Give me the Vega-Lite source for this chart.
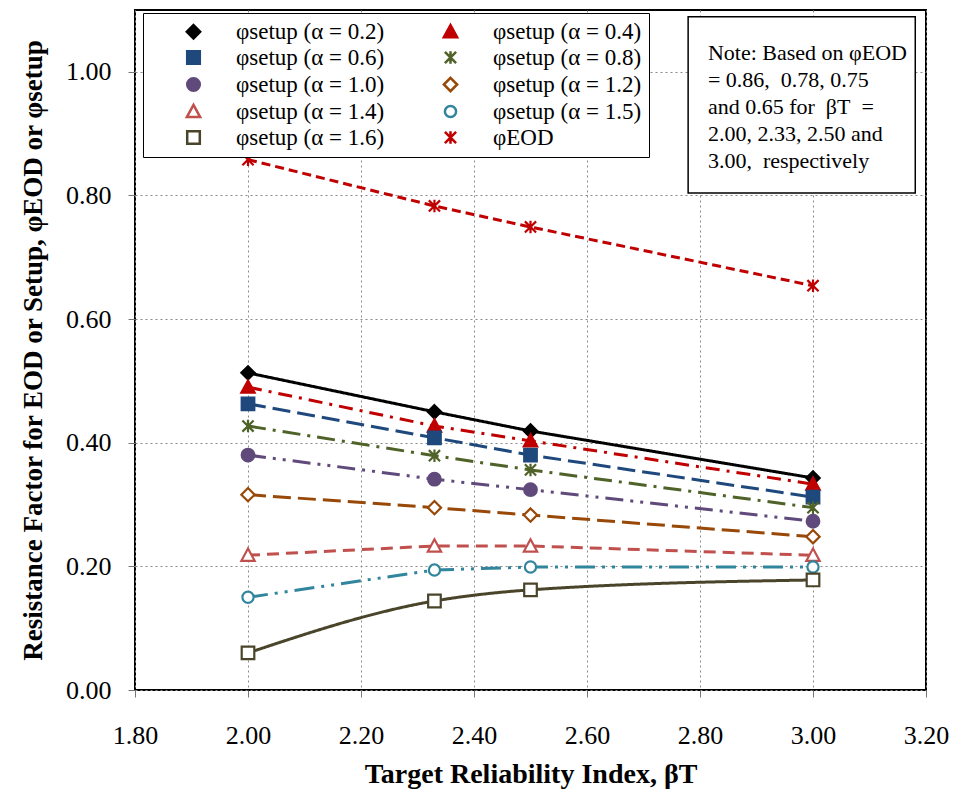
{
  "$schema": "https://vega.github.io/schema/vega-lite/v6.json",
  "width": 791,
  "height": 680,
  "autosize": {"type": "none"},
  "padding": {"left": 135, "top": 10, "right": 29, "bottom": 106},
  "background": "white",
  "config": {
    "font": "Liberation Serif",
    "view": {"stroke": "black", "strokeWidth": 2},
    "axis": {
      "labelFont": "Liberation Serif",
      "labelFontSize": 26,
      "labelColor": "black",
      "labelFlush": false,
      "titleFont": "Liberation Serif",
      "titleFontWeight": "bold",
      "titleColor": "black",
      "grid": true,
      "gridColor": "#8a8a8a",
      "gridDash": [2, 3],
      "gridWidth": 1,
      "domain": false,
      "tickColor": "#777",
      "tickSize": 7,
      "tickWidth": 1
    }
  },
  "data": {
    "values": [
      {"s": "φsetup (α = 0.2)", "b": 2.0, "p": 0.513},
      {"s": "φsetup (α = 0.2)", "b": 2.33, "p": 0.45},
      {"s": "φsetup (α = 0.2)", "b": 2.5, "p": 0.419},
      {"s": "φsetup (α = 0.2)", "b": 3.0, "p": 0.343},
      {"s": "φsetup (α = 0.4)", "b": 2.0, "p": 0.49},
      {"s": "φsetup (α = 0.4)", "b": 2.33, "p": 0.427},
      {"s": "φsetup (α = 0.4)", "b": 2.5, "p": 0.403},
      {"s": "φsetup (α = 0.4)", "b": 3.0, "p": 0.333},
      {"s": "φsetup (α = 0.6)", "b": 2.0, "p": 0.463},
      {"s": "φsetup (α = 0.6)", "b": 2.33, "p": 0.408},
      {"s": "φsetup (α = 0.6)", "b": 2.5, "p": 0.38},
      {"s": "φsetup (α = 0.6)", "b": 3.0, "p": 0.312},
      {"s": "φsetup (α = 0.8)", "b": 2.0, "p": 0.427},
      {"s": "φsetup (α = 0.8)", "b": 2.33, "p": 0.379},
      {"s": "φsetup (α = 0.8)", "b": 2.5, "p": 0.356},
      {"s": "φsetup (α = 0.8)", "b": 3.0, "p": 0.295},
      {"s": "φsetup (α = 1.0)", "b": 2.0, "p": 0.38},
      {"s": "φsetup (α = 1.0)", "b": 2.33, "p": 0.341},
      {"s": "φsetup (α = 1.0)", "b": 2.5, "p": 0.324},
      {"s": "φsetup (α = 1.0)", "b": 3.0, "p": 0.273},
      {"s": "φsetup (α = 1.2)", "b": 2.0, "p": 0.316},
      {"s": "φsetup (α = 1.2)", "b": 2.33, "p": 0.295},
      {"s": "φsetup (α = 1.2)", "b": 2.5, "p": 0.283},
      {"s": "φsetup (α = 1.2)", "b": 3.0, "p": 0.248},
      {"s": "φsetup (α = 1.4)", "b": 2.0, "p": 0.218},
      {"s": "φsetup (α = 1.4)", "b": 2.33, "p": 0.233},
      {"s": "φsetup (α = 1.4)", "b": 2.5, "p": 0.233},
      {"s": "φsetup (α = 1.4)", "b": 3.0, "p": 0.218},
      {"s": "φsetup (α = 1.5)", "b": 2.0, "p": 0.15},
      {"s": "φsetup (α = 1.5)", "b": 2.33, "p": 0.194},
      {"s": "φsetup (α = 1.5)", "b": 2.5, "p": 0.199},
      {"s": "φsetup (α = 1.5)", "b": 3.0, "p": 0.199},
      {"s": "φsetup (α = 1.6)", "b": 2.0, "p": 0.06},
      {"s": "φsetup (α = 1.6)", "b": 2.33, "p": 0.144},
      {"s": "φsetup (α = 1.6)", "b": 2.5, "p": 0.162},
      {"s": "φsetup (α = 1.6)", "b": 3.0, "p": 0.178},
      {"s": "φEOD", "b": 2.0, "p": 0.858},
      {"s": "φEOD", "b": 2.33, "p": 0.783},
      {"s": "φEOD", "b": 2.5, "p": 0.749},
      {"s": "φEOD", "b": 3.0, "p": 0.654}
    ]
  },
  "layer": [
    {
      "transform": [{"filter": "datum.s !== 'φsetup (α = 1.6)'"}],
      "mark": {"type": "line", "strokeWidth": 3},
      "encoding": {
        "x": {
          "field": "b",
          "type": "quantitative",
          "scale": {"domain": [1.8, 3.2], "nice": false, "zero": false},
          "axis": {
            "values": [1.8, 2.0, 2.2, 2.4, 2.6, 2.8, 3.0, 3.2],
            "format": ".2f",
            "labelPadding": 25,
            "titlePadding": 12,
            "titleFontSize": 28,
            "title": "Target Reliability Index, βT"
          }
        },
        "y": {
          "field": "p",
          "type": "quantitative",
          "scale": {"domain": [0, 1.1], "nice": false},
          "axis": {
            "values": [0, 0.2, 0.4, 0.6, 0.8, 1.0],
            "format": ".2f",
            "labelPadding": 17,
            "titlePadding": 18,
            "titleFontSize": 27,
            "title": "Resistance Factor for EOD or Setup, φEOD or φsetup"
          }
        },
        "stroke": {
          "field": "s", "type": "nominal",
          "scale": {
            "domain": ["φsetup (α = 0.2)", "φsetup (α = 0.6)", "φsetup (α = 1.0)", "φsetup (α = 1.4)", "φsetup (α = 1.6)", "φsetup (α = 0.4)", "φsetup (α = 0.8)", "φsetup (α = 1.2)", "φsetup (α = 1.5)", "φEOD"],
            "range": ["#000000", "#1F497D", "#604A7B", "#C0504D", "#4A452A", "#C00000", "#4F6228", "#984807", "#31859C", "#C00000"]
          }
        },
        "strokeDash": {
          "field": "s", "type": "nominal",
          "scale": {
            "domain": ["φsetup (α = 0.2)", "φsetup (α = 0.4)", "φsetup (α = 0.6)", "φsetup (α = 0.8)", "φsetup (α = 1.0)", "φsetup (α = 1.2)", "φsetup (α = 1.4)", "φsetup (α = 1.5)", "φsetup (α = 1.6)", "φEOD"],
            "range": [[1, 0], [14, 7, 3, 7], [18, 7], [18, 7, 3, 7], [18, 7, 3, 7, 3, 7], [18, 7], [12, 7], [20, 7, 3, 7, 3, 7], [1, 0], [9, 5]]
          },
          "legend": null
        }
      }
    },
    {
      "transform": [{"filter": "datum.s === 'φsetup (α = 1.6)'"}],
      "mark": {"type": "line", "strokeWidth": 3, "interpolate": "monotone"},
      "encoding": {
        "x": {"field": "b", "type": "quantitative"},
        "y": {"field": "p", "type": "quantitative"},
        "stroke": {"field": "s", "type": "nominal"},
        "strokeDash": {"field": "s", "type": "nominal", "legend": null}
      }
    },
    {
      "mark": {"type": "point", "strokeWidth": 2.2, "size": 196, "opacity": 1, "fillOpacity": 1, "strokeOpacity": 1},
      "encoding": {
        "x": {"field": "b", "type": "quantitative"},
        "y": {"field": "p", "type": "quantitative"},
        "stroke": {"field": "s", "type": "nominal"},
        "fill": {
          "field": "s", "type": "nominal",
          "scale": {
            "domain": ["φsetup (α = 0.2)", "φsetup (α = 0.6)", "φsetup (α = 1.0)", "φsetup (α = 1.4)", "φsetup (α = 1.6)", "φsetup (α = 0.4)", "φsetup (α = 0.8)", "φsetup (α = 1.2)", "φsetup (α = 1.5)", "φEOD"],
            "range": ["#000000", "#1F497D", "#604A7B", "#ffffff", "#ffffff", "#C00000", "#4F6228", "#ffffff", "#ffffff", "#ffffff"]
          }
        },
        "shape": {
          "field": "s", "type": "nominal",
          "scale": {
            "domain": ["φsetup (α = 0.2)", "φsetup (α = 0.6)", "φsetup (α = 1.0)", "φsetup (α = 1.4)", "φsetup (α = 1.6)", "φsetup (α = 0.4)", "φsetup (α = 0.8)", "φsetup (α = 1.2)", "φsetup (α = 1.5)", "φEOD"],
            "range": [
              "M0,-0.95L0.95,0L0,0.95L-0.95,0Z",
              "M-0.9,-0.9H0.9V0.9H-0.9Z",
              "M-0.9,0A0.9,0.9 0 1,0 0.9,0A0.9,0.9 0 1,0 -0.9,0Z",
              "M0,-0.95L0.95,0.8L-0.95,0.8Z",
              "M-0.9,-0.9H0.9V0.9H-0.9Z",
              "M0,-0.95L0.95,0.8L-0.95,0.8Z",
              "M0,-0.9V0.9M-0.8,-0.8L0.8,0.8M-0.8,0.8L0.8,-0.8",
              "M0,-0.95L0.95,0L0,0.95L-0.95,0Z",
              "M-0.8,0A0.8,0.8 0 1,0 0.8,0A0.8,0.8 0 1,0 -0.8,0Z",
              "M0,-0.9V0.9M-0.8,-0.8L0.8,0.8M-0.8,0.8L0.8,-0.8"
            ]
          },
          "legend": {
            "title": null,
            "orient": "none",
            "legendX": 8,
            "legendY": 3,
            "columns": 2,
            "columnPadding": 22,
            "rowPadding": 2,
            "padding": 7,
            "strokeColor": "black",
            "fillColor": "white",
            "symbolSize": 196,
            "symbolStrokeWidth": 2.5,
            "symbolOffset": 32,
            "labelOffset": 31,
            "labelFont": "Liberation Serif",
            "labelFontSize": 23,
            "labelColor": "black",
            "labelLimit": 0
          }
        }
      }
    },
    {
      "data": {"values": [{}]},
      "mark": {"type": "rect", "fill": "white", "stroke": "black", "strokeWidth": 1.5},
      "encoding": {
        "x": {"datum": 2.779, "type": "quantitative"},
        "x2": {"datum": 3.181},
        "y": {"datum": 1.089, "type": "quantitative"},
        "y2": {"datum": 0.804}
      }
    },
    {
      "data": {"values": [{}]},
      "mark": {"type": "text", "align": "left", "baseline": "top", "fontSize": 22, "lineHeight": 27, "font": "Liberation Serif", "color": "black"},
      "encoding": {
        "x": {"datum": 2.814, "type": "quantitative"},
        "y": {"datum": 1.047, "type": "quantitative"},
        "text": {"value": ["Note: Based on φEOD", "= 0.86,\u00a0 0.78, 0.75", "and 0.65 for\u00a0 βT\u00a0 =", "2.00, 2.33, 2.50 and", "3.00,\u00a0 respectively"]}
      }
    }
  ]
}
